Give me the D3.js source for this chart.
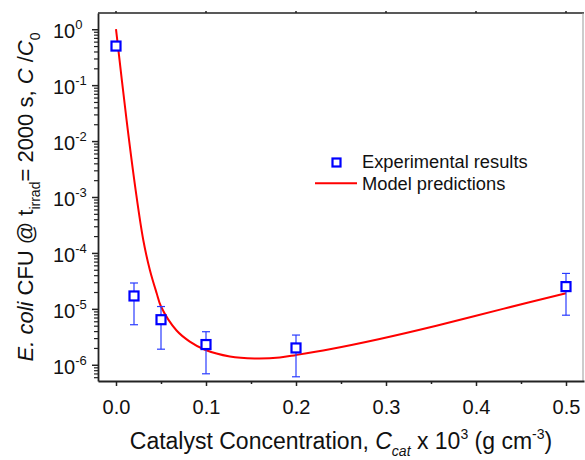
<!DOCTYPE html>
<html lang="en">
<head>
<meta charset="utf-8">
<script src="https://cdn.jsdelivr.net/npm/d3@7"></script>
<style>
  body { margin: 0; background: #fff; }
  svg { font-family: "Liberation Sans", Arial, Helvetica, sans-serif; }
  .axis path, .axis line { stroke: #222; }
</style>
</head>
<body>
<script>
// measured points (catalyst conc x 10^3 g/cm3 vs C/C0)
var concX   = [0, 0.02, 0.05, 0.1, 0.2, 0.5];
var survY   = [0.5, 1.7e-5, 6.4e-6, 2.3e-6, 2.0e-6, 2.5e-5];
var errHigh = [0.5, 2.9e-5, 1.1e-5, 3.9e-6, 3.4e-6, 4.3e-5];
var errLow  = [0.5, 5.2e-6, 1.9e-6, 6.9e-7, 6.1e-7, 7.7e-6];

// model line
var modelX = [0, 0.0118, 0.0219, 0.0303, 0.0377, 0.0452, 0.05, 0.0673, 0.082, 0.0988,
              0.1265, 0.154, 0.182, 0.2005, 0.2375, 0.293, 0.356, 0.43, 0.5];
var modelY = [1.0, 0.0234, 1.3e-3, 1.7e-4, 4.9e-5, 1.9e-5, 1.1e-5, 4.1e-6, 2.6e-6, 1.86e-6,
              1.41e-6, 1.3e-6, 1.35e-6, 1.5e-6, 1.9e-6, 2.9e-6, 5.0e-6, 1.0e-5, 1.9e-5];

var xTicks = [0, 0.1, 0.2, 0.3, 0.4, 0.5];
var xMinor = [0.05, 0.15, 0.25, 0.35, 0.45];
var yExp   = [0, -1, -2, -3, -4, -5, -6];

var W = 585, H = 460;
var pL = 98, pR = 584, pT = 13, pB = 381;

var svg = d3.select("body").append("svg")
    .attr("width", W).attr("height", H);

var x = d3.scaleLinear().domain([-0.02, 0.52]).range([pL, pR]);
var y = d3.scaleLog().domain([Math.pow(10, -6.29), Math.pow(10, 0.29)]).range([pB, pT]);

// minor y ticks
var yMinor = [];
for (var e = -7; e <= 0; e++) {
  for (var m = 2; m <= 9; m++) {
    var v = m * Math.pow(10, e);
    if (v >= y.domain()[0] && v <= y.domain()[1]) yMinor.push(v);
  }
}

// frame: top and right
svg.append("line").attr("x1", pL).attr("x2", pR).attr("y1", pT).attr("y2", pT)
   .attr("stroke", "#222").attr("stroke-width", 1.5);
svg.append("line").attr("x1", pR - 1).attr("x2", pR - 1).attr("y1", pT).attr("y2", pB)
   .attr("stroke", "#999").attr("stroke-width", 1);
svg.selectAll(".topTick").data(xTicks).enter().append("line")
   .attr("x1", d => x(d)).attr("x2", d => x(d))
   .attr("y1", pT).attr("y2", pT - 2)
   .attr("stroke", "#222").attr("stroke-width", 1.5);

// x axis
var xAxis = svg.append("g").attr("class", "axis")
    .attr("transform", "translate(0," + pB + ")")
    .call(d3.axisBottom(x).tickValues(xTicks).tickSize(5).tickSizeOuter(0).tickFormat(d3.format(".1f")));
xAxis.select(".domain").attr("stroke-width", 1.8);
xAxis.selectAll(".tick line").attr("stroke-width", 1.5);
xAxis.selectAll(".tick text").attr("font-size", 20).attr("fill", "#111").attr("dy", "1.25em");
svg.append("g").attr("class", "axis")
    .attr("transform", "translate(0," + pB + ")")
    .call(d3.axisBottom(x).tickValues(xMinor).tickSize(3).tickFormat(""))
    .call(g => g.select(".domain").remove())
    .selectAll(".tick line").attr("stroke-width", 1.5);

// y axis
var yAxis = svg.append("g").attr("class", "axis")
    .attr("transform", "translate(" + pL + ",0)")
    .call(d3.axisLeft(y).tickValues(yExp.map(p => Math.pow(10, p))).tickSize(6).tickSizeOuter(0).tickFormat(""));
yAxis.select(".domain").attr("stroke-width", 1.8);
yAxis.selectAll(".tick line").attr("stroke-width", 1.5);
svg.append("g").attr("class", "axis")
    .attr("transform", "translate(" + pL + ",0)")
    .call(d3.axisLeft(y).tickValues(yMinor).tickSize(4).tickFormat(""))
    .call(g => g.select(".domain").remove())
    .selectAll(".tick line").attr("stroke-width", 1.2);

var yLab = svg.selectAll(".ylab").data(yExp).enter().append("text")
    .attr("x", 53).attr("y", d => y(Math.pow(10, d)) + 9)
    .attr("font-size", 20).attr("fill", "#111");
yLab.append("tspan").text("10");
yLab.append("tspan").attr("font-size", 13).attr("dy", -9).text(d => d === 0 ? "0" : "-" + (-d));

// axis titles
var xt = svg.append("text").attr("x", 341).attr("y", 449)
    .attr("text-anchor", "middle").attr("font-size", 23).attr("fill", "#111");
xt.append("tspan").text("Catalyst Concentration, ");
xt.append("tspan").attr("font-style", "italic").text("C");
xt.append("tspan").attr("font-style", "italic").attr("font-size", 14).attr("dy", 7).text("cat");
xt.append("tspan").attr("dy", -7).text(" x 10");
xt.append("tspan").attr("font-size", 14).attr("dy", -10).text("3");
xt.append("tspan").attr("dy", 10).text(" (g cm");
xt.append("tspan").attr("font-size", 14).attr("dy", -10).text("-3");
xt.append("tspan").attr("dy", 10).text(")");

var yt = svg.append("text").attr("transform", "translate(33,197) rotate(-90)")
    .attr("text-anchor", "middle").attr("font-size", 22).attr("fill", "#111");
yt.append("tspan").attr("font-style", "italic").text("E. coli");
yt.append("tspan").text(" CFU @ t");
yt.append("tspan").attr("font-size", 14).attr("dy", 7).text("irrad");
yt.append("tspan").attr("dy", -7).text("= 2000 s, ");
yt.append("tspan").attr("font-style", "italic").text("C");
yt.append("tspan").text(" /");
yt.append("tspan").attr("font-style", "italic").text("C");
yt.append("tspan").attr("font-size", 14).attr("dy", 7).text("0");

// model curve
var line = d3.line().x(d => x(d[0])).y(d => y(d[1])).curve(d3.curveCatmullRom.alpha(0.5));
svg.append("path").datum(d3.zip(modelX, modelY))
    .attr("d", line).attr("fill", "none").attr("stroke", "#ff0000").attr("stroke-width", 2);

// error bars
var pts = concX.map((c, i) => ({x: c, y: survY[i], hi: errHigh[i], lo: errLow[i]}));
var eb = svg.selectAll(".err").data(pts.filter(d => d.hi !== d.lo)).enter().append("g")
    .attr("stroke", "#2a3cff").attr("stroke-width", 1.2);
eb.append("line").attr("x1", d => x(d.x)).attr("x2", d => x(d.x)).attr("y1", d => y(d.hi)).attr("y2", d => y(d.lo));
eb.append("line").attr("x1", d => x(d.x) - 4).attr("x2", d => x(d.x) + 4).attr("y1", d => y(d.hi)).attr("y2", d => y(d.hi));
eb.append("line").attr("x1", d => x(d.x) - 4).attr("x2", d => x(d.x) + 4).attr("y1", d => y(d.lo)).attr("y2", d => y(d.lo));

// markers
svg.selectAll(".pt").data(pts).enter().append("rect")
    .attr("x", d => x(d.x) - 4.5).attr("y", d => y(d.y) - 4.5)
    .attr("width", 9).attr("height", 9)
    .attr("fill", "#fff").attr("stroke", "#0000ff").attr("stroke-width", 2.2);

// legend
svg.append("rect").attr("x", 332.5).attr("y", 158.5).attr("width", 8).attr("height", 8)
    .attr("fill", "#fff").attr("stroke", "#0000ff").attr("stroke-width", 2.2);
svg.append("line").attr("x1", 315).attr("x2", 357).attr("y1", 183.3).attr("y2", 183.3)
    .attr("stroke", "#ff0000").attr("stroke-width", 2);
svg.append("text").attr("x", 362).attr("y", 167.5).attr("font-size", 18.3).attr("fill", "#111")
    .text("Experimental results");
svg.append("text").attr("x", 362).attr("y", 190).attr("font-size", 18.3).attr("fill", "#111")
    .text("Model predictions");
</script>
</body>
</html>
